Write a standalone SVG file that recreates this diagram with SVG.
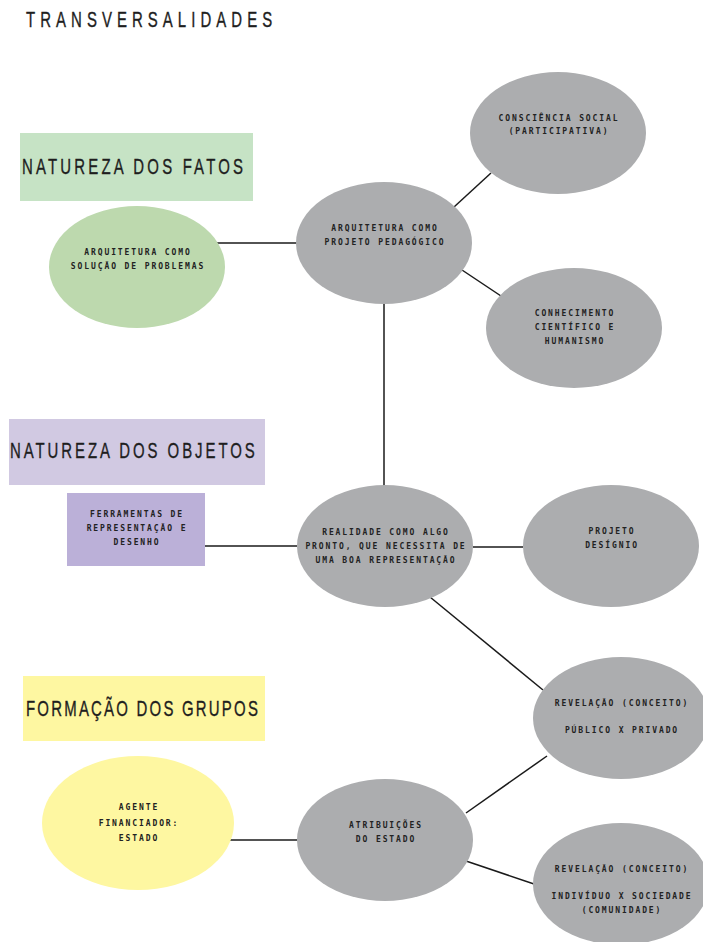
<svg xmlns="http://www.w3.org/2000/svg" width="703" height="942" viewBox="0 0 703 942">
<style>
.hd{font-family:"Liberation Sans",Arial,sans-serif;font-size:22px;fill:#1e1e1e;stroke:#1e1e1e;stroke-width:0.35}
.t{font-family:"DejaVu Sans Mono","Liberation Mono",monospace;font-weight:bold;font-size:8px;letter-spacing:1.9px;fill:#222222;text-anchor:middle}
.g{fill:#acadaf}
.ln{stroke:#1a1a1a;stroke-width:1.5;fill:none}
</style>
<rect width="703" height="942" fill="#ffffff"/>
<text class="hd" transform="translate(26,27) scale(0.68,1)" x="0" y="0" textLength="362" lengthAdjust="spacing">TRANSVERSALIDADES</text>
<g id="connectors">
<line class="ln" x1="216" y1="243" x2="297" y2="243"/>
<line class="ln" x1="454" y1="207" x2="491" y2="173"/>
<line class="ln" x1="462" y1="270" x2="501" y2="296"/>
<line class="ln" x1="384" y1="303" x2="384" y2="487"/>
<line class="ln" x1="205" y1="546" x2="297" y2="546"/>
<line class="ln" x1="473" y1="547" x2="523" y2="547"/>
<line class="ln" x1="430" y1="597" x2="543" y2="690"/>
<line class="ln" x1="229" y1="840" x2="297" y2="840"/>
<line class="ln" x1="466" y1="813" x2="547" y2="756"/>
<line class="ln" x1="466" y1="861" x2="534" y2="884"/>
</g>
<g id="h-fatos">
<rect x="20" y="133" width="233" height="68" fill="#c6e3c5"/>
<text class="hd" transform="translate(22,174) scale(0.68,1)" x="0" y="0" textLength="325" lengthAdjust="spacing">NATUREZA DOS FATOS</text>
</g>
<g id="n-solucao">
<ellipse cx="137" cy="267" rx="88" ry="61" fill="#bdd9ae"/>
<text class="t" x="138" y="255">ARQUITETURA COMO</text>
<text class="t" x="138" y="269">SOLUÇÃO DE PROBLEMAS</text>
</g>
<g id="n-pedagogico">
<ellipse class="g" cx="384" cy="243" rx="88" ry="61"/>
<text class="t" x="385" y="231">ARQUITETURA COMO</text>
<text class="t" x="385" y="245">PROJETO PEDAGÓGICO</text>
</g>
<g id="n-consciencia">
<ellipse class="g" cx="558" cy="133" rx="88" ry="61"/>
<text class="t" x="559" y="121">CONSCIÊNCIA SOCIAL</text>
<text class="t" x="559" y="134">(PARTICIPATIVA)</text>
</g>
<g id="n-conhecimento">
<ellipse class="g" cx="574" cy="328" rx="88" ry="60"/>
<text class="t" x="575" y="316">CONHECIMENTO</text>
<text class="t" x="575" y="330">CIENTÍFICO E</text>
<text class="t" x="575" y="344">HUMANISMO</text>
</g>
<g id="h-objetos">
<rect x="9" y="419" width="256" height="66" fill="#d1c9e2"/>
<text class="hd" transform="translate(10,458) scale(0.68,1)" x="0" y="0" textLength="360" lengthAdjust="spacing">NATUREZA DOS OBJETOS</text>
</g>
<g id="n-ferramentas">
<rect x="67" y="493" width="138" height="73" fill="#bbb0d8"/>
<text class="t" x="137" y="517">FERRAMENTAS DE</text>
<text class="t" x="137" y="531">REPRESENTAÇÃO E</text>
<text class="t" x="137" y="545">DESENHO</text>
</g>
<g id="n-realidade">
<ellipse class="g" cx="385" cy="546" rx="88" ry="61"/>
<text class="t" x="386" y="535">REALIDADE COMO ALGO</text>
<text class="t" x="386" y="549">PRONTO, QUE NECESSITA DE</text>
<text class="t" x="386" y="563">UMA BOA REPRESENTAÇÃO</text>
</g>
<g id="n-projeto">
<ellipse class="g" cx="611" cy="546" rx="88" ry="61"/>
<text class="t" x="612" y="534">PROJETO</text>
<text class="t" x="612" y="548">DESÍGNIO</text>
</g>
<g id="h-grupos">
<rect x="23" y="676" width="242" height="65" fill="#fef7a1"/>
<text class="hd" transform="translate(26,716) scale(0.68,1)" x="0" y="0" textLength="341" lengthAdjust="spacing">FORMAÇÃO DOS GRUPOS</text>
</g>
<g id="n-agente">
<ellipse cx="138" cy="823" rx="96" ry="67" fill="#fef7a1"/>
<text class="t" x="139" y="810">AGENTE</text>
<text class="t" x="139" y="826">FINANCIADOR:</text>
<text class="t" x="139" y="841">ESTADO</text>
</g>
<g id="n-atribuicoes">
<ellipse class="g" cx="385" cy="840" rx="88" ry="61"/>
<text class="t" x="386" y="828">ATRIBUIÇÕES</text>
<text class="t" x="386" y="842">DO ESTADO</text>
</g>
<g id="n-publico">
<ellipse class="g" cx="621" cy="718" rx="88" ry="61"/>
<text class="t" x="622" y="706">REVELAÇÃO (CONCEITO)</text>
<text class="t" x="622" y="733">PÚBLICO X PRIVADO</text>
</g>
<g id="n-individuo">
<ellipse class="g" cx="621" cy="884" rx="88" ry="61"/>
<text class="t" x="622" y="872">REVELAÇÃO (CONCEITO)</text>
<text class="t" x="622" y="899">INDIVÍDUO X SOCIEDADE</text>
<text class="t" x="622" y="913">(COMUNIDADE)</text>
</g>
</svg>
